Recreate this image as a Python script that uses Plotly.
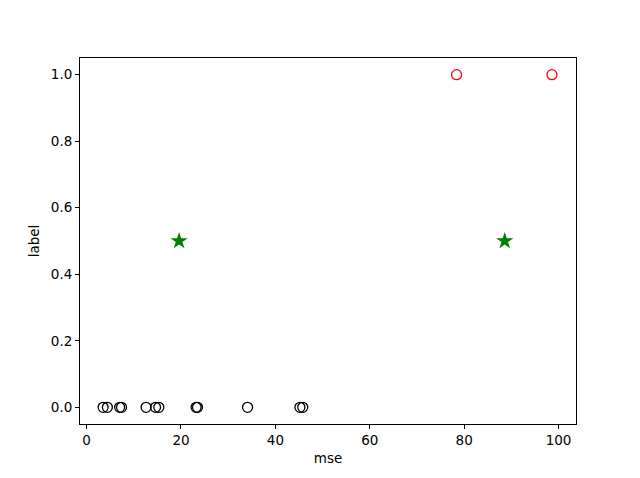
import plotly.graph_objects as go

normal_mse = [3.5, 4.4, 7.0, 7.4, 12.6, 14.6, 15.3, 23.2, 23.5, 34.1, 45.2, 45.8]
normal_label = [0] * len(normal_mse)
anomaly_mse = [78.4, 98.6]
anomaly_label = [1, 1]
center_mse = [19.6, 88.6]
center_label = [0.5, 0.5]

fig = go.Figure()
fig.add_trace(go.Scatter(x=normal_mse, y=normal_label, mode="markers",
                         marker=dict(symbol="circle-open", size=10, color="black", line=dict(width=1.3))))
fig.add_trace(go.Scatter(x=anomaly_mse, y=anomaly_label, mode="markers",
                         marker=dict(symbol="circle-open", size=10, color="red", line=dict(width=1.3))))
fig.add_trace(go.Scatter(x=center_mse, y=center_label, mode="markers",
                         marker=dict(symbol="star", size=13, color="green", line=dict(width=0))))

axis_common = dict(showgrid=False, zeroline=False, showline=True, linecolor="black", linewidth=1,
                   mirror=True, ticks="outside", ticklen=4, tickcolor="black",
                   tickfont=dict(family="DejaVu Sans", size=13.5, color="black"))
fig.update_layout(
    width=632, height=470,
    margin=dict(l=72, r=64, t=50, b=54),
    plot_bgcolor="white", paper_bgcolor="white",
    showlegend=False,
    font=dict(family="DejaVu Sans", size=13.5, color="black"),
    xaxis=dict(range=[-1.4, 103.7], tickvals=[0, 20, 40, 60, 80, 100],
               title=dict(text="mse", font=dict(size=13.5), standoff=6), **axis_common),
    yaxis=dict(range=[-0.05, 1.05], tickvals=[0, 0.2, 0.4, 0.6, 0.8, 1.0], tickformat=".1f",
               title=dict(text="label", font=dict(size=13.5), standoff=8), **axis_common),
)
fig.write_html("out.html")
